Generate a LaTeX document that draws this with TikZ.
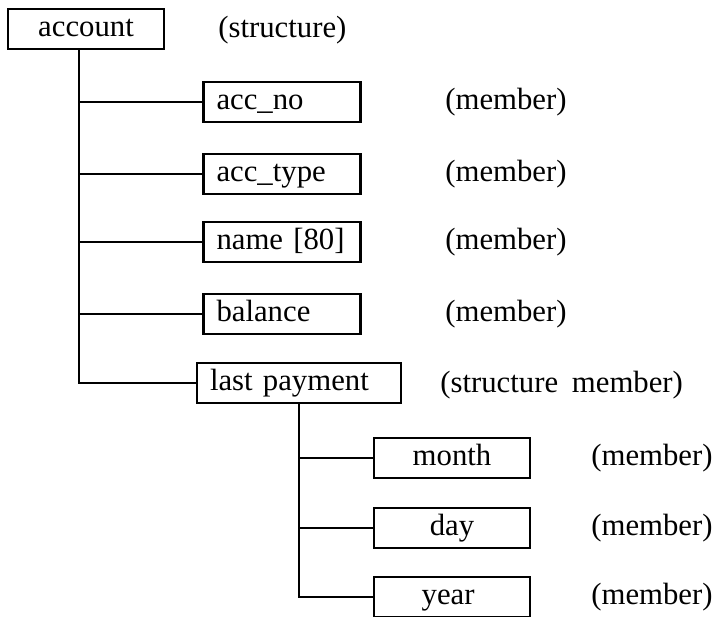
\documentclass[tikz,border=0pt]{standalone}
\usepackage{fontspec}
\setmainfont{Liberation Serif}
\usepackage{tikz}
\usetikzlibrary{positioning}
\tikzset{
    field/.style={draw, line width=1.5pt, minimum height=0.78cm, text width=2.62cm, inner xsep=0.26cm, align=left, text height=12.5pt, text depth=3.5pt}, % box of a member, text to the left
    subfield/.style={draw, line width=1.5pt, minimum height=0.78cm, minimum width=3.12cm, align=center, text height=12.5pt, text depth=3.5pt}, % box with centred text
    kind/.style={anchor=west, inner sep=0pt}, % the notes on the right
    link/.style={line width=1.2pt}
}

\begin{document}
\begin{tikzpicture}[x=0.02cm, y=-0.02cm, font=\fontsize{17.5}{20}\selectfont]
  \useasboundingbox (0,0) rectangle (718,617);

  \node[subfield] (account) at (86,29) {account};
  \node[kind] (accountkind) at (218,30) {(structure)};

  \foreach \nm / \y / \txt in {
      accno/102/{acc\_no},
      acctype/174/{acc\_type},
      name/242/{name [80]},
      balance/314/{balance}
  } {
      \node[field] (\nm) at (282,\y) {\txt};
      \node[kind] (\nm kind) at (445,\y) {(member)};
  }

  \node[field, text width=3.56cm] (lastpay) at (299,383) {last payment};
  \node[kind] (lastpaykind) at (440,385) {(structure\hspace{0.45em}member)};

  \foreach \nm / \y / \txt in {
      month/458/{month},
      day/528/{day},
      year/597/{year}
  } {
      \node[subfield] (\nm) at (452,\y) {\txt};
      \node[kind] (\nm kind) at (591,\y) {(member)};
  }

  % connectors
  \coordinate (trunk) at (79,0);
  \draw[link] (account.south -| trunk) |- (lastpay.west);
  \foreach \nm in {accno, acctype, name, balance}
      \draw[link] (trunk |- \nm.west) -- (\nm.west);

  \draw[link] (lastpay.south) |- (year.west);
  \foreach \nm in {month, day}
      \draw[link] (lastpay.south |- \nm.west) -- (\nm.west);

\end{tikzpicture}
\end{document}
